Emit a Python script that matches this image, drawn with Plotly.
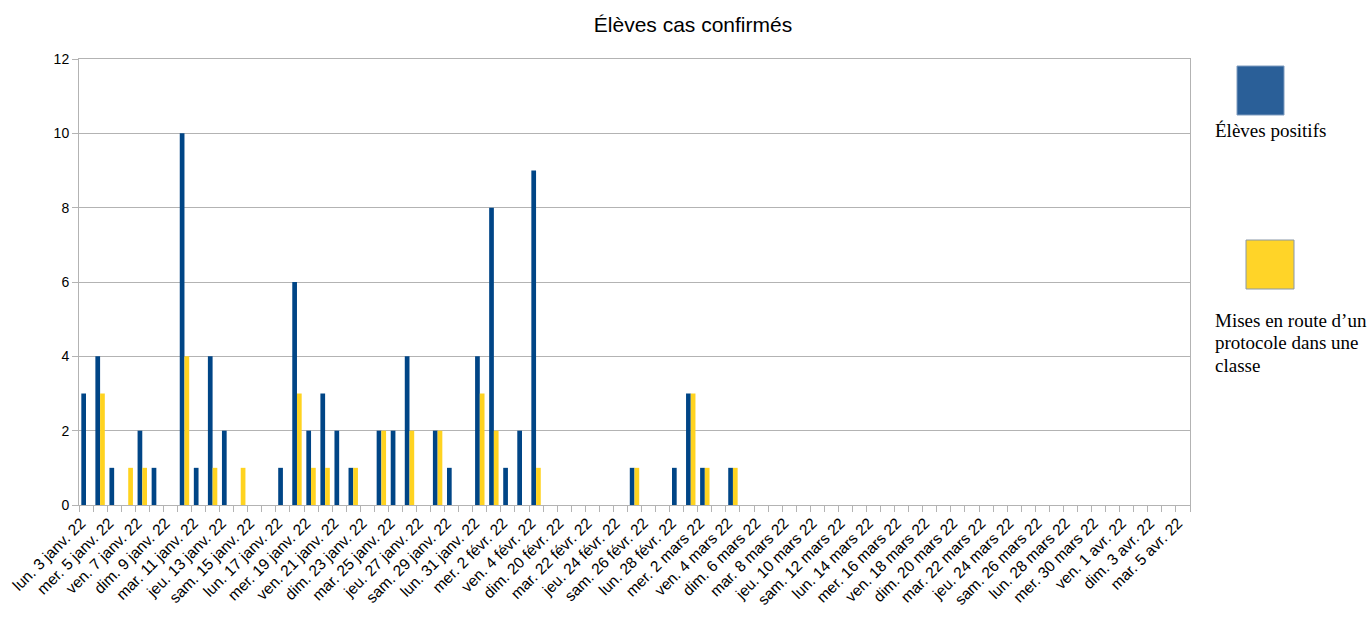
import plotly.graph_objects as go

dates = [
    "lun. 3 janv. 22", "mar. 4 janv. 22", "mer. 5 janv. 22", "jeu. 6 janv. 22", "ven. 7 janv. 22",
    "sam. 8 janv. 22", "dim. 9 janv. 22", "lun. 10 janv. 22", "mar. 11 janv. 22", "mer. 12 janv. 22",
    "jeu. 13 janv. 22", "ven. 14 janv. 22", "sam. 15 janv. 22", "dim. 16 janv. 22", "lun. 17 janv. 22",
    "mar. 18 janv. 22", "mer. 19 janv. 22", "jeu. 20 janv. 22", "ven. 21 janv. 22", "sam. 22 janv. 22",
    "dim. 23 janv. 22", "lun. 24 janv. 22", "mar. 25 janv. 22", "mer. 26 janv. 22", "jeu. 27 janv. 22",
    "ven. 28 janv. 22", "sam. 29 janv. 22", "dim. 30 janv. 22", "lun. 31 janv. 22", "mar. 1 févr. 22",
    "mer. 2 févr. 22", "jeu. 3 févr. 22", "ven. 4 févr. 22", "sam. 5 févr. 22",
    "dim. 20 févr. 22", "lun. 21 févr. 22", "mar. 22 févr. 22", "mer. 23 févr. 22", "jeu. 24 févr. 22",
    "ven. 25 févr. 22", "sam. 26 févr. 22", "dim. 27 févr. 22", "lun. 28 févr. 22",
    "mar. 1 mars 22", "mer. 2 mars 22", "jeu. 3 mars 22", "ven. 4 mars 22", "sam. 5 mars 22",
    "dim. 6 mars 22", "lun. 7 mars 22", "mar. 8 mars 22", "mer. 9 mars 22", "jeu. 10 mars 22",
    "ven. 11 mars 22", "sam. 12 mars 22", "dim. 13 mars 22", "lun. 14 mars 22", "mar. 15 mars 22",
    "mer. 16 mars 22", "jeu. 17 mars 22", "ven. 18 mars 22", "sam. 19 mars 22", "dim. 20 mars 22",
    "lun. 21 mars 22", "mar. 22 mars 22", "mer. 23 mars 22", "jeu. 24 mars 22", "ven. 25 mars 22",
    "sam. 26 mars 22", "dim. 27 mars 22", "lun. 28 mars 22", "mar. 29 mars 22", "mer. 30 mars 22",
    "jeu. 31 mars 22", "ven. 1 avr. 22", "sam. 2 avr. 22", "dim. 3 avr. 22", "lun. 4 avr. 22",
    "mar. 5 avr. 22",
]

eleves_positifs = [
    3, 4, 1, 0, 2, 1, 0, 10, 1, 4,
    2, 0, 0, 0, 1, 6, 2, 3, 2, 1,
    0, 2, 2, 4, 0, 2, 1, 0, 4, 8,
    1, 2, 9, 0, 0, 0, 0, 0, 0, 1,
    0, 0, 1, 3, 1, 0, 1, 0, 0, 0,
    0, 0, 0, 0, 0, 0, 0, 0, 0, 0,
    0, 0, 0, 0, 0, 0, 0, 0, 0, 0,
    0, 0, 0, 0, 0, 0, 0, 0, 0,
]

mises_en_route = [
    0, 3, 0, 1, 1, 0, 0, 4, 0, 1,
    0, 1, 0, 0, 0, 3, 1, 1, 0, 1,
    0, 2, 0, 2, 0, 2, 0, 0, 3, 2,
    0, 0, 1, 0, 0, 0, 0, 0, 0, 1,
    0, 0, 0, 3, 1, 0, 1, 0, 0, 0,
    0, 0, 0, 0, 0, 0, 0, 0, 0, 0,
    0, 0, 0, 0, 0, 0, 0, 0, 0, 0,
    0, 0, 0, 0, 0, 0, 0, 0, 0,
]

series_names = ["Élèves positifs", "Mises en route d’un protocole dans une classe"]
legend_line1 = ["Élèves positifs"]
legend_line2 = ["Mises en route d’un", "protocole dans une", "classe"]
colors = ["#004586", "#ffd320"]
y_ticks = [0, 2, 4, 6, 8, 10, 12]

tick_text = [d if i % 2 == 0 else "" for i, d in enumerate(dates)]

fig = go.Figure()
fig.add_trace(go.Bar(x=dates, y=eleves_positifs, name=series_names[0],
                     marker=dict(color=colors[0], line=dict(width=0))))
fig.add_trace(go.Bar(x=dates, y=mises_en_route, name=series_names[1],
                     marker=dict(color=colors[1], line=dict(width=0))))

FW, FH = 1372, 623
L, R, T, B = 79, 1190, 59, 505  # plot area in pixels
W, H = R - L, B - T

def px(x):
    return (x - L) / W

def py(y):
    return (B - y) / H

grid = "#b3b3b3"

fig.update_layout(
    width=FW, height=FH,
    margin=dict(l=L, r=FW - R, t=T, b=FH - B, autoexpand=False),
    paper_bgcolor="white", plot_bgcolor="white",
    barmode="group", bargap=0.33, bargroupgap=0,
    showlegend=False,
    font=dict(family="Liberation Sans, Arial, sans-serif", size=13, color="#000000"),
    title=dict(text="Élèves cas confirmés", x=693 / FW, xanchor="center",
               y=1 - 25 / FH, yanchor="middle",
               font=dict(family="Liberation Sans, Arial, sans-serif", size=21, color="#000000")),
    xaxis=dict(
        type="category", categoryorder="array", categoryarray=dates,
        tickmode="array", tickvals=dates, ticktext=tick_text,
        tickangle=-45, tickson="boundaries", ticks="outside", ticklen=6,
        ticklabelshift=-5, ticklabelstandoff=2,
        tickcolor=grid, showline=True, linecolor=grid, linewidth=1, mirror=True,
        showgrid=False, tickfont=dict(size=15.5, color="#000000"),
        range=[-0.5, len(dates) - 0.5],
    ),
    yaxis=dict(
        range=[0, 12], tickmode="array", tickvals=y_ticks,
        ticks="outside", ticklen=6, tickcolor=grid,
        showline=True, linecolor=grid, linewidth=1, mirror=True,
        showgrid=True, gridcolor=grid, gridwidth=1, zeroline=False,
        tickfont=dict(size=14, color="#000000"),
    ),
)

# Legend swatches and labels (drawn manually to match large squares)
fig.add_shape(type="rect", xref="paper", yref="paper",
              x0=px(1237), x1=px(1284), y0=py(115), y1=py(66),
              fillcolor="#2a5f98", line=dict(color="#7f9cbf", width=1))
fig.add_shape(type="rect", xref="paper", yref="paper",
              x0=px(1246), x1=px(1294), y0=py(289), y1=py(240),
              fillcolor="#ffd428", line=dict(color="#8a98a8", width=1))

serif = dict(family="Liberation Serif, Times New Roman, serif", size=19, color="#000000")
for text, yc in zip(legend_line1, [130]):
    fig.add_annotation(xref="paper", yref="paper", x=px(1213), y=py(yc),
                       xanchor="left", yanchor="middle", showarrow=False, align="left",
                       text=text, font=serif)
for text, yc in zip(legend_line2, [320, 342.5, 365]):
    fig.add_annotation(xref="paper", yref="paper", x=px(1213), y=py(yc),
                       xanchor="left", yanchor="middle", showarrow=False, align="left",
                       text=text, font=serif)

fig.write_html(
    "out.html",
    config={"displayModeBar": False},
    post_script="document.body.style.margin='0';document.body.style.overflow='hidden';",
)
